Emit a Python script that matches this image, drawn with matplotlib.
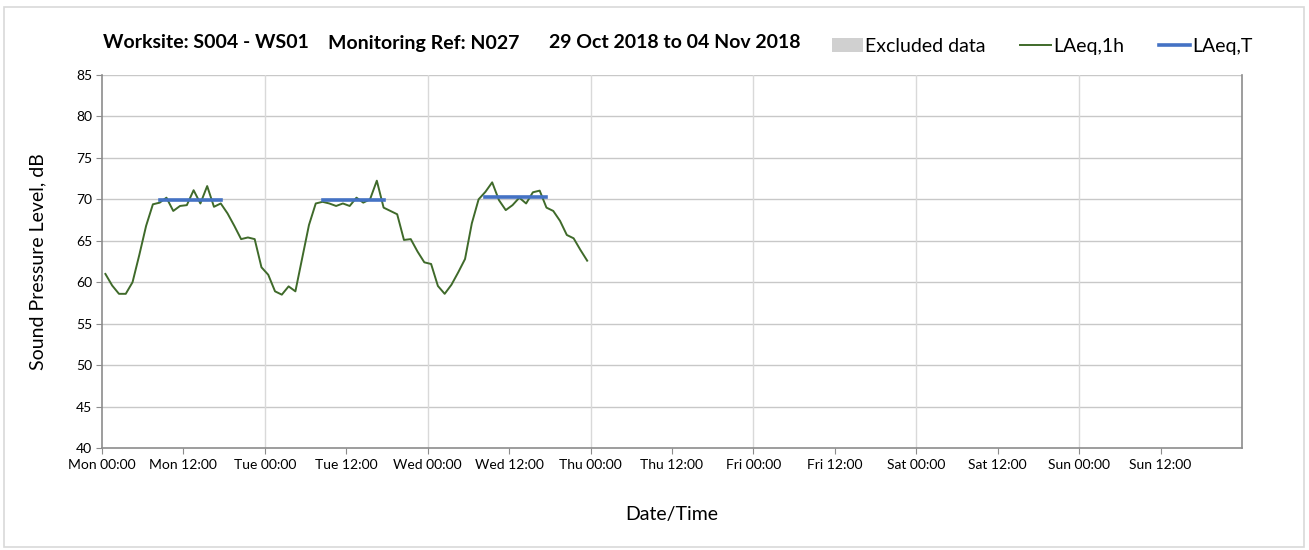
import numpy as np
import matplotlib
matplotlib.use('Agg')
import matplotlib.pyplot as plt
from matplotlib.patches import Patch, Rectangle
from matplotlib.lines import Line2D

plt.rcParams['font.family'] = ['Lato', 'DejaVu Sans']

# Niveles horarios LAeq,1h (dB), una muestra por hora desde lunes 00:00
laeq_1h = [
    61.0, 59.6, 58.6, 58.6, 60.0, 63.3, 66.8, 69.4, 69.6, 70.2, 68.6, 69.2,
    69.3, 71.1, 69.5, 71.6, 69.1, 69.5, 68.3, 66.8, 65.2, 65.4, 65.2, 61.8,
    60.9, 58.9, 58.5, 59.5, 58.9, 62.9, 66.9, 69.5, 69.7, 69.5, 69.2, 69.5,
    69.2, 70.2, 69.6, 70.0, 72.25, 69.0, 68.6, 68.2, 65.1, 65.2, 63.7, 62.4,
    62.2, 59.55, 58.6, 59.7, 61.2, 62.8, 67.1, 70.0, 70.9, 72.05, 69.9, 68.7,
    69.3, 70.2, 69.5, 70.85, 71.05, 69.0, 68.6, 67.4, 65.7, 65.3, 63.9, 62.6,
]

# Periodos LAeq,T: hora inicial, hora final (muestras horarias) y nivel
laeq_t_inicio = [8, 32, 56]
laeq_t_fin = [17, 41, 65]
laeq_t_nivel = [69.9, 69.9, 70.3]

dias = ['Mon', 'Tue', 'Wed', 'Thu', 'Fri', 'Sat', 'Sun']
etiquetas_x = [f'{d} {h}' for d in dias for h in ['00:00', '12:00']]

# Partes del título con su posición horizontal (px)
titulo_partes = ['Worksite: S004 - WS01', 'Monitoring Ref: N027', '29 Oct 2018 to 04 Nov 2018']
titulo_x = [103, 328, 549]

verde = '#3f6a2a'
azul = '#4472c4'
gris = '#8c8c8c'

fig = plt.figure(figsize=(13.09, 5.5), dpi=100)
ax = fig.add_axes([102 / 1309, 1 - 448 / 550, 1140 / 1309, 373 / 550])

horas = np.arange(len(laeq_1h)) + 0.5
ax.plot(horas, laeq_1h, color=verde, linewidth=1.4, zorder=3)

for ini, fin, nivel in zip(laeq_t_inicio, laeq_t_fin, laeq_t_nivel):
    ax.plot([ini + 0.5, fin + 0.5], [nivel, nivel], color=azul, linewidth=2.6,
            solid_capstyle='projecting', zorder=4)

ax.set_xlim(0, 168)
ax.set_ylim(40, 85)
ax.set_xticks(np.arange(0, 168, 12))
ax.set_xticklabels(etiquetas_x, fontsize=10)
ax.set_yticks(np.arange(40, 86, 5))
ax.tick_params(axis='y', labelsize=10, length=4, color=gris, pad=3)
ax.tick_params(axis='x', length=4, color=gris, pad=4)

# Rejilla: horizontal cada 5 dB, vertical cada día
for y in np.arange(45, 86, 5):
    ax.axhline(y, color='#c8c8c8', linewidth=1.0, zorder=1)
for x in np.arange(24, 168, 24):
    ax.axvline(x, color='#d9d9d9', linewidth=1.0, zorder=1)

for lado in ['left', 'bottom', 'right']:
    ax.spines[lado].set_color(gris)
    ax.spines[lado].set_linewidth(1.2)
ax.spines['top'].set_visible(False)

ax.set_ylabel('Sound Pressure Level, dB', fontsize=14, labelpad=21)
ax.set_xlabel('Date/Time', fontsize=14, labelpad=25)

for parte, xp in zip(titulo_partes, titulo_x):
    fig.text(xp / 1309, 1 - 43 / 550, parte, fontsize=14, fontweight='bold',
             va='center', ha='left')

handles = [
    Patch(facecolor='#d0d0d0', edgecolor='none'),
    Line2D([], [], color=verde, linewidth=1.4),
    Line2D([], [], color=azul, linewidth=2.6),
]
fig.legend(handles, ['Excluded data', 'LAeq,1h', 'LAeq,T'], ncol=3,
           loc='center left', bbox_to_anchor=(814 / 1309, 1 - 46 / 550),
           frameon=False, fontsize=14, handlelength=1.6, handletextpad=0.1,
           columnspacing=1.8)

# Marco exterior del gráfico
fig.patches.append(Rectangle((4 / 1309, 3 / 550), 1300 / 1309, 540 / 550,
                             transform=fig.transFigure, fill=False,
                             edgecolor='#d9d9d9', linewidth=1.2))

fig.savefig('out.png', dpi=100)
